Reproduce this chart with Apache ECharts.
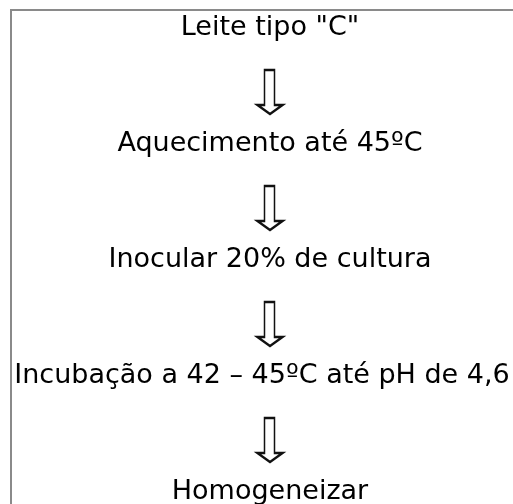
<!DOCTYPE html>
<html>
<head>
<meta charset="utf-8">
<script src="https://cdn.jsdelivr.net/npm/echarts@6/dist/echarts.min.js"></script>
<style>
  html, body { margin: 0; padding: 0; background: #fff; }
  #main { width: 513px; height: 504px; }
</style>
</head>
<body>
<div id="main"></div>
<script>
// etapas do fluxograma, de cima para baixo
const steps = [
  'Leite tipo "C"',
  'Aquecimento até 45ºC',
  'Inocular 20% de cultura',
  'Incubação a 42 – 45ºC até pH de 4,6',
  'Homogeneizar'
];

const stepData = steps.map(function (name, i) {
  const item = { name: name, value: [0.5, i] };
  // a linha mais longa encosta na borda esquerda da caixa
  if (name.length > 30) item.label = { offset: [-8, 0] };
  return item;
});
// uma seta entre cada par de etapas
const arrowData = steps.slice(1).map(function (name, i) {
  return { name: steps[i] + ' -> ' + name, value: [0.5, i + 0.5] };
});

const chart = echarts.init(document.getElementById('main'));

chart.setOption({
  backgroundColor: '#fff',
  animation: false,
  grid: {
    left: 27,
    right: 0,
    top: 28,
    bottom: 12
  },
  xAxis: {
    type: 'value',
    min: 0,
    max: 1,
    show: false
  },
  yAxis: {
    type: 'value',
    min: 0,
    max: steps.length - 1,
    inverse: true,
    show: false
  },
  graphic: [{
    type: 'rect',
    shape: { x: 11, y: 10, width: 700, height: 700 },
    style: { fill: null, stroke: '#8a8a8a', lineWidth: 2 },
    silent: true
  }],
  series: [
    {
      type: 'scatter',
      data: arrowData,
      symbol: 'path://M7,0L17,0L17,35L25,35L12.5,44L0,35L7,35Z',
      symbolSize: [25, 44],
      symbolOffset: [0, 6],
      itemStyle: {
        color: '#fff',
        borderColor: '#111',
        borderWidth: 2,
        opacity: 1
      },
      silent: true
    },
    {
      type: 'scatter',
      data: stepData,
      symbolSize: 0,
      itemStyle: { opacity: 1 },
      label: {
        show: true,
        position: 'inside',
        formatter: '{b}',
        fontFamily: 'DejaVu Sans',
        fontSize: 27,
        color: '#000'
      },
      silent: true
    }
  ]
});
</script>
</body>
</html>
